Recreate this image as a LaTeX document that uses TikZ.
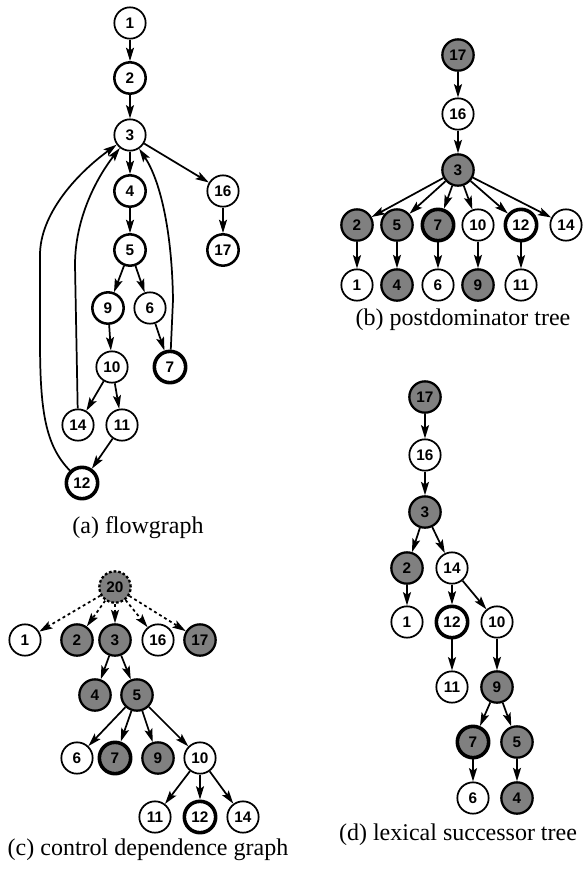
\documentclass[tikz,border=0pt]{standalone}
\usepackage{fontspec}
\setmainfont{Liberation Serif}
\newfontfamily\numfont{Liberation Sans}
\usetikzlibrary{arrows.meta}
\begin{document}
\begin{tikzpicture}[x=0.75pt,y=-0.75pt,
 nd/.style={circle,draw,line width=1.3pt,minimum size=23.5pt,inner sep=0pt,font=\numfont\bfseries\fontsize{11.5}{11.5}\selectfont},
 med/.style={nd,line width=1.9pt},
 bld/.style={nd,line width=2.7pt},
 sh/.style={nd,line width=1.7pt,fill=black!50},
 shb/.style={nd,line width=2.7pt,fill=black!50},
 dsh/.style={sh,dash pattern=on 2pt off 1.5pt},
 ed/.style={line width=1.3pt,-{Stealth[length=10pt,width=6pt,inset=2pt]}},
 dd/.style={ed,dash pattern=on 2.2pt off 2.2pt},
 captxt/.style={font=\fontsize{18}{21}\selectfont}]
\useasboundingbox (0,0) rectangle (583,869);

% (a) flowgraph
\node[nd]  (a1)  at (130,23)  {1};
\node[med] (a2)  at (130,78)  {2};
\node[nd]  (a3)  at (130,135) {3};
\node[med] (a4)  at (130,191) {4};
\node[med] (a5)  at (130,250) {5};
\node[nd]  (a16) at (223,191) {16};
\node[med] (a17) at (223,250) {17};
\node[med] (a9)  at (108,308) {9};
\node[nd]  (a6)  at (150,308) {6};
\node[nd]  (a10) at (112,367) {10};
\node[bld] (a7)  at (170,367) {7};
\node[nd]  (a14) at (78,425)  {14};
\node[nd]  (a11) at (122,425) {11};
\node[bld] (a12) at (82,483)  {12};
\node[captxt] (capa) at (138,528) {(a) flowgraph};
\draw[ed] (a1) -- (a2);
\draw[ed] (a2) -- (a3);
\draw[ed] (a3) -- (a4);
\draw[ed] (a3) -- (a16);
\draw[ed] (a4) -- (a5);
\draw[ed] (a16) -- (a17);
\draw[ed] (a5) -- (a9);
\draw[ed] (a5) -- (a6);
\draw[ed] (a9) -- (a10);
\draw[ed] (a6) -- (a7);
\draw[ed] (a10) -- (a14);
\draw[ed] (a10) -- (a11);
\draw[ed] (a11) -- (a12);
\draw[ed] (a12) .. controls (45,445) and (40,410) .. (40,340) -- (40,255) .. controls (40,215) and (75,175) .. (a3);
\draw[ed] (a14) -- (75,265) .. controls (75,220) and (95,180) .. (a3);
\draw[ed] (a7) -- (173,300) .. controls (172,230) and (160,180) .. (a3);

% (b) postdominator tree
\node[sh]  (b17) at (458,55)  {17};
\node[nd]  (b16) at (458,114) {16};
\node[sh]  (b3)  at (458,170) {3};
\node[sh]  (b2)  at (357,225) {2};
\node[sh]  (b5)  at (397,225) {5};
\node[shb] (b7)  at (438,225) {7};
\node[nd]  (b10) at (478,225) {10};
\node[bld] (b12) at (521,225) {12};
\node[nd]  (b14) at (566,225) {14};
\node[nd]  (b1)  at (357,285) {1};
\node[sh]  (b4)  at (397,285) {4};
\node[nd]  (b6)  at (438,285) {6};
\node[sh]  (b9)  at (478,285) {9};
\node[nd]  (b11) at (521,285) {11};
\node[captxt] (capb) at (463,320) {(b) postdominator tree};
\draw[ed] (b17) -- (b16);
\draw[ed] (b16) -- (b3);
\foreach \t in {b2,b5,b7,b10,b12,b14} \draw[ed] (b3) -- (\t);
\draw[ed] (b2) -- (b1);
\draw[ed] (b5) -- (b4);
\draw[ed] (b7) -- (b6);
\draw[ed] (b10) -- (b9);
\draw[ed] (b12) -- (b11);

% (c) control dependence graph
\node[dsh] (c20) at (115,587) {20};
\node[nd]  (c1)  at (25,640)  {1};
\node[sh]  (c2)  at (77,640)  {2};
\node[sh]  (c3)  at (115,640) {3};
\node[nd]  (c16) at (158,640) {16};
\node[sh]  (c17) at (200,640) {17};
\node[sh]  (c4)  at (95,695)  {4};
\node[sh]  (c5)  at (137,695) {5};
\node[nd]  (c6)  at (77,758)  {6};
\node[shb] (c7)  at (115,758) {7};
\node[sh]  (c9)  at (158,758) {9};
\node[nd]  (c10) at (200,758) {10};
\node[nd]  (c11) at (155,817) {11};
\node[bld] (c12) at (200,817) {12};
\node[nd]  (c14) at (243,817) {14};
\node[captxt] (capc) at (148,850) {(c) control dependence graph};
\foreach \t in {c1,c2,c3,c16,c17} \draw[dd] (c20) -- (\t);
\draw[ed] (c3) -- (c4);
\draw[ed] (c3) -- (c5);
\foreach \t in {c6,c7,c9,c10} \draw[ed] (c5) -- (\t);
\foreach \t in {c11,c12,c14} \draw[ed] (c10) -- (\t);

% (d) lexical successor tree
\node[sh]  (d17) at (425,397) {17};
\node[nd]  (d16) at (425,455) {16};
\node[sh]  (d3)  at (425,512) {3};
\node[sh]  (d2)  at (407,568) {2};
\node[nd]  (d14) at (452,568) {14};
\node[nd]  (d1)  at (407,622) {1};
\node[bld] (d12) at (452,622) {12};
\node[nd]  (d10) at (497,622) {10};
\node[nd]  (d11) at (452,687) {11};
\node[sh]  (d9)  at (497,687) {9};
\node[shb] (d7)  at (473,742) {7};
\node[sh]  (d5)  at (517,742) {5};
\node[nd]  (d6)  at (473,798) {6};
\node[sh]  (d4)  at (517,798) {4};
\node[captxt] (capd) at (458,835) {(d) lexical successor tree};
\draw[ed] (d17) -- (d16);
\draw[ed] (d16) -- (d3);
\draw[ed] (d3) -- (d2);
\draw[ed] (d3) -- (d14);
\draw[ed] (d2) -- (d1);
\draw[ed] (d14) -- (d12);
\draw[ed] (d14) -- (d10);
\draw[ed] (d12) -- (d11);
\draw[ed] (d10) -- (d9);
\draw[ed] (d9) -- (d7);
\draw[ed] (d9) -- (d5);
\draw[ed] (d7) -- (d6);
\draw[ed] (d5) -- (d4);
\end{tikzpicture}
\end{document}
